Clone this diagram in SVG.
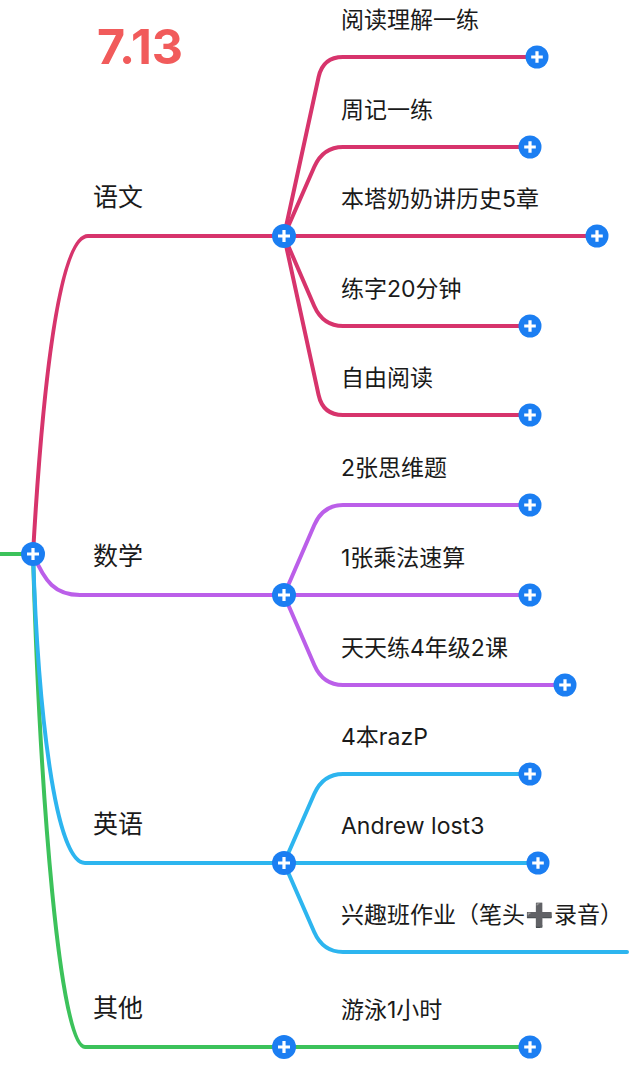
<svg xmlns="http://www.w3.org/2000/svg" width="640" height="1088" viewBox="0 0 640 1088">
<defs>
<style>
.bg{fill:#ffffff}
.ln{fill:none;stroke-width:4;stroke-linecap:round;stroke-linejoin:round}
.c1{stroke:#d7346c}
.c2{stroke:#bb5fe9}
.c3{stroke:#2db5ef}
.c4{stroke:#3cc25b}
.t{font-family:Inter,"Noto Sans CJK SC",sans-serif;fill:#1a1a1a}
.tc{font-size:23px}
.tp{font-size:25px}
.title{font-family:Inter,"Liberation Sans",sans-serif;font-weight:700;font-size:48px;fill:#f15b5b}
.cf{fill:#1b7ef2}
.pl{stroke:#ffffff;stroke-width:3.2;stroke-linecap:butt}
</style>
<g id="btn">
<circle class="cf" cx="0" cy="0" r="12"/>
<path class="pl" d="M-6,0H6M0,-6V6"/>
</g>
<g id="btnS">
<circle class="cf" cx="0" cy="0" r="11.5"/>
<path class="pl" d="M-5.8,0H5.8M0,-5.8V5.8"/>
</g>
</defs>
<rect class="bg" x="0" y="0" width="640" height="1088"/>
<text id="title" class="title" x="97" y="64" textLength="86" lengthAdjust="spacingAndGlyphs">7.13</text>

<g id="connectors">
<path class="ln c4" d="M0,554 L33,554"/>
<path class="ln c4" d="M33,554 C40,800 60,1047 85,1047 L530,1047"/>
<path class="ln c3" d="M33,554 C38,710 55,863 85,863 L538,863"/>
<path class="ln c2" d="M33,554 C45,582 55,595 80,595 L530,595"/>
<path class="ln c1" d="M33,554 C42,395 58,236 88,236 L597,236"/>
<path class="ln c1" d="M284,236 L318.6,77 Q323,57 343,57 L537,57"/>
<path class="ln c1" d="M284,236 L314.2,167 Q323,147 343,147 L530,147"/>
<path class="ln c1" d="M284,236 L314.2,306 Q323,326 343,326 L530,326"/>
<path class="ln c1" d="M284,236 L318.6,395 Q323,415 343,415 L530,415"/>
<path class="ln c2" d="M284,595 L314.3,525 Q323,505 343,505 L530,505"/>
<path class="ln c2" d="M284,595 L314.3,665 Q323,685 343,685 L565,685"/>
<path class="ln c3" d="M284,863 L314.2,794 Q323,774 343,774 L530,774"/>
<path class="ln c3" d="M284,863 L314.2,932 Q323,952 343,952 L627,952"/>
</g>

<g id="root"><use href="#btn" x="33" y="554"/></g>

<g id="n-yuwen"><text class="t tp" x="93" y="206">语文</text><use href="#btn" x="284" y="236"/></g>
<g id="n-shuxue"><text class="t tp" x="93" y="565">数学</text><use href="#btn" x="284" y="595"/></g>
<g id="n-yingyu"><text class="t tp" x="93" y="833">英语</text><use href="#btn" x="284" y="863"/></g>
<g id="n-qita"><text class="t tp" x="93" y="1017">其他</text><use href="#btn" x="284" y="1047"/></g>

<g id="c1"><text class="t tc" x="341" y="28">阅读理解一练</text><use href="#btnS" x="537" y="57"/></g>
<g id="c2"><text class="t tc" x="341" y="118">周记一练</text><use href="#btnS" x="530" y="147"/></g>
<g id="c3"><text class="t tc" x="341" y="207">本塔奶奶讲历史5章</text><use href="#btnS" x="597" y="236"/></g>
<g id="c4"><text class="t tc" x="341" y="297">练字20分钟</text><use href="#btnS" x="530" y="326"/></g>
<g id="c5"><text class="t tc" x="341" y="386">自由阅读</text><use href="#btnS" x="530" y="415"/></g>
<g id="c6"><text class="t tc" x="341" y="476">2张思维题</text><use href="#btnS" x="530" y="505"/></g>
<g id="c7"><text class="t tc" x="341" y="566">1张乘法速算</text><use href="#btnS" x="530" y="595"/></g>
<g id="c8"><text class="t tc" x="341" y="656">天天练4年级2课</text><use href="#btnS" x="565" y="685"/></g>
<g id="c9"><text class="t tc" x="341" y="745">4本razP</text><use href="#btnS" x="530" y="774"/></g>
<g id="c10"><text class="t tc" x="341" y="834">Andrew lost3</text><use href="#btnS" x="538" y="863"/></g>
<g id="c11"><text class="t tc" x="341" y="923">兴趣班作业（笔头➕录音）</text></g>
<g id="c12"><text class="t tc" x="341" y="1018">游泳1小时</text><use href="#btnS" x="530" y="1047"/></g>
</svg>
